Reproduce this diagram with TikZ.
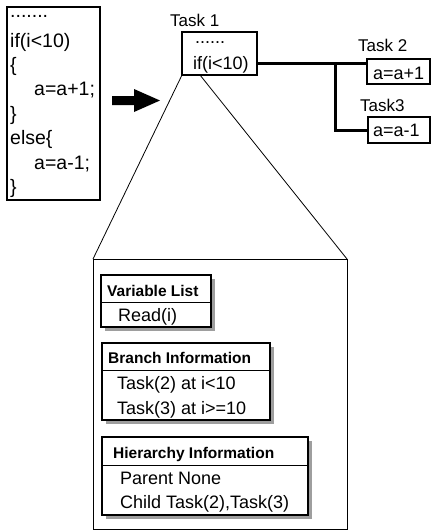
\documentclass[tikz,border=0pt]{standalone}
\usepackage{fontspec}
\setmainfont{Liberation Sans}
\usetikzlibrary{calc,arrows.meta}
\begin{document}
\begin{tikzpicture}[x=1pt,y=-1pt,
  box/.style={draw, inner sep=0pt, outer sep=0pt, anchor=north west},
  codetxt/.style={inner sep=0pt, anchor=base west, font=\fontsize{19.5}{19.5}\selectfont},
  tasktxt/.style={inner sep=0pt, anchor=base west, font=\fontsize{18}{18}\selectfont},
  lbl/.style={inner sep=0pt, anchor=base west, font=\fontsize{17}{17}\selectfont},
  head/.style={inner sep=0pt, anchor=base west, font=\fontsize{15.5}{15.5}\selectfont\bfseries},
  body/.style={inner sep=0pt, anchor=base west, font=\fontsize{18}{18}\selectfont},
  shadow/.style={fill=black!38, draw=none},
  infobox/.style={box, fill=white, line width=1.8pt},
  thickline/.style={line width=3pt},
  thinline/.style={line width=0.8pt}]
\useasboundingbox (0,0) rectangle (433,531);

% code box
\node[box, line width=1.3pt, minimum width=93pt, minimum height=193pt] (code) at (7,7) {};
\node[codetxt] (c0) at (10,17) {.......};
\node[codetxt] (c1) at (10,47) {if(i<10)};
\node[codetxt] (c2) at (10,71.4) {\{};
\node[codetxt] (c3) at (34,95.8) {a=a+1;};
\node[codetxt] (c4) at (10,120.2) {\}};
\node[codetxt] (c5) at (10,144.6) {else\{};
\node[codetxt] (c6) at (34,169) {a=a-1;};
\node[codetxt] (c7) at (10,193.4) {\}};

% big arrow
\fill (112,96) -- (134,96) -- (134,89) -- (160,100.5) -- (134,112) -- (134,105) -- (112,105) -- cycle;

% Task 1
\node[lbl] (l1) at (170,26.5) {Task 1};
\node[box, line width=2pt, minimum width=75pt, minimum height=43pt] (t1) at (182,32) {};
\node[tasktxt] (t1a) at (195,43) {......};
\node[tasktxt] (t1b) at (193,69.5) {if(i<10)};

% Task 2 and Task 3
\node[lbl] (l2) at (358,51) {Task 2};
\node[box, line width=2pt, minimum width=63pt, minimum height=25pt] (t2) at (367,59) {};
\node[tasktxt] (t2a) at (373,79) {a=a+1};
\node[lbl] (l3) at (360,111) {Task3};
\node[box, line width=2pt, minimum width=62pt, minimum height=26pt] (t3) at (368,117) {};
\node[tasktxt] (t3a) at (373,136) {a=a-1};

% connectors
\coordinate (j) at (335,63);
\draw[thickline] (t1.east |- j) -- (t2.west |- j);
\draw[thickline] (j) |- (t3.west);

% expansion box
\node[box, thinline, minimum width=254pt, minimum height=270pt] (big) at (93,259) {};
\draw[thinline] (t1.south west) -- (big.north west);
\draw[thinline] ($(t1.south west)+(18,0)$) -- (big.north east);

% Variable list
\fill[shadow] (105,279) rectangle (215,331);
\node[infobox, minimum width=110pt, minimum height=52pt] (vl) at (101,275) {};
\draw[line width=0.8pt] (vl.west |- 0,302) -- (vl.east |- 0,302);
\node[head] (vlh) at (107,296.5) {Variable List};
\node[body] (vl1) at (118,321.5) {Read(i)};

% Branch information
\fill[shadow] (106,347) rectangle (274,424);
\node[infobox, minimum width=168pt, minimum height=77pt] (bi) at (102,343) {};
\draw[line width=0.8pt] (bi.west |- 0,370) -- (bi.east |- 0,370);
\node[head] (bih) at (108,363.5) {Branch Information};
\node[body] (bi1) at (117,389.5) {Task(2) at i<10};
\node[body] (bi2) at (117,414.5) {Task(3) at i>=10};

% Hierarchy information
\fill[shadow] (106,441) rectangle (312,519);
\node[infobox, minimum width=206pt, minimum height=78pt] (hi) at (102,437) {};
\draw[line width=0.8pt] (hi.west |- 0,465) -- (hi.east |- 0,465);
\node[head] (hih) at (113,458.5) {Hierarchy Information};
\node[body] (hi1) at (120,484.5) {Parent None};
\node[body] (hi2) at (120,508.5) {Child Task(2),Task(3)};
\end{tikzpicture}
\end{document}
